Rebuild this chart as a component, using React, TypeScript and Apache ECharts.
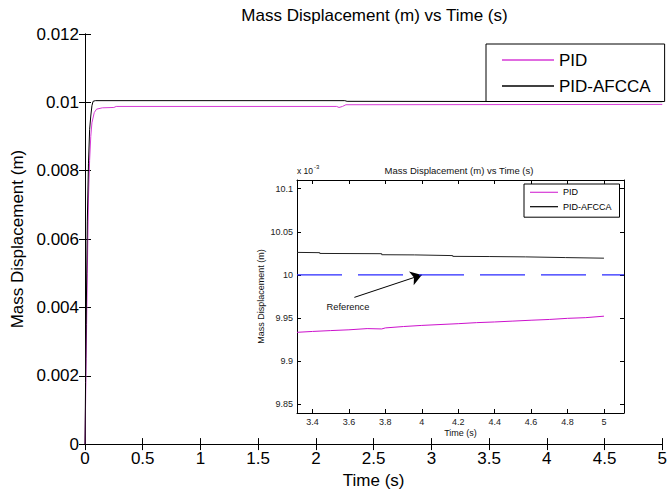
import React, { useEffect, useRef } from "react";
import * as echarts from "echarts";

// ---- main plot data (Time in s, displacement in m) ----
const pidTime = [0, 0.005, 0.01, 0.02, 0.03, 0.04, 0.05, 0.06, 0.08, 0.1, 0.15, 0.25, 0.27, 2.18, 2.2, 2.23, 2.26, 5];
const pidValue = [0, 0.0012, 0.0025, 0.005, 0.0072, 0.0083, 0.009, 0.0094, 0.0097, 0.0098, 0.00984, 0.00985, 0.00988, 0.00988, 0.00985, 0.00988, 0.00993, 0.00994];
const afccaTime = [0, 0.005, 0.01, 0.02, 0.03, 0.04, 0.05, 0.06, 0.07, 0.09, 2.25, 2.27, 5];
const afccaValue = [0, 0.0018, 0.0035, 0.0065, 0.0082, 0.0092, 0.0096, 0.0099, 0.01003, 0.01005, 0.01005, 0.01003, 0.01002];

// ---- inset data (Time in s, displacement in 1e-3 m) ----
const insetPidTime = [3.315, 3.4, 3.5, 3.6, 3.7, 3.78, 3.8, 3.9, 4.0, 4.1, 4.2, 4.3, 4.4, 4.5, 4.6, 4.7, 4.8, 4.9, 5.0];
const insetPidValue = [9.9335, 9.9345, 9.9355, 9.9364, 9.9378, 9.9374, 9.9386, 9.9402, 9.9415, 9.9425, 9.9435, 9.9447, 9.9455, 9.9465, 9.9475, 9.9484, 9.9497, 9.9505, 9.9522];
const insetAfccaTime = [3.315, 3.44, 3.44, 3.78, 3.78, 3.96, 3.96, 4.17, 4.17, 4.37, 4.37, 4.57, 4.57, 4.79, 4.79, 5.0];
const insetAfccaValue = [10.0261, 10.0258, 10.0249, 10.0246, 10.0234, 10.0232, 10.0226, 10.0224, 10.0215, 10.0213, 10.0211, 10.0209, 10.0203, 10.0201, 10.0196, 10.0194];
const referenceTime = [3.315, 5.11];
const referenceValue = [10, 10];
const arrowFrom = [3.63, 9.974];
const arrowTo = [4.0, 10.0];

// ---- tick values ----
const insetXTicks = [3.4, 3.6, 3.8, 4, 4.2, 4.4, 4.6, 4.8, 5];
const insetYTicks = [9.85, 9.9, 9.95, 10, 10.05, 10.1];

const FONT = "Liberation Sans, Arial, Helvetica, sans-serif";
const zip = (a: number[], b: number[]) => a.map((v, i) => [v, b[i]]);

export default function App() {
  const ref = useRef<HTMLDivElement>(null);
  useEffect(() => {
    if (!ref.current) return;
    const chart = echarts.init(ref.current, null, { renderer: "svg" });
    const blk = { color: "#000", width: 1 };
    const mainTick = { show: true, inside: true, length: 6, lineStyle: blk };
    const insetTick = { show: true, inside: true, length: 4, lineStyle: blk, customValues: insetXTicks };
    const insetYTick = { show: true, inside: true, length: 4, lineStyle: blk, customValues: insetYTicks };
    const fmt = (v: number) => String(+v.toFixed(4));
    chart.setOption({
      animation: false,
      backgroundColor: "#fff",
      textStyle: { fontFamily: FONT },
      title: [
        {
          text: "Mass Displacement (m) vs Time (s)",
          left: 374.5,
          top: 6.5,
          textAlign: "center",
          padding: 0,
          textStyle: { fontSize: 17, fontWeight: "normal", color: "#000", fontFamily: FONT },
        },
        {
          text: "Mass Displacement (m) vs Time (s)",
          left: 459,
          top: 165.5,
          textAlign: "center",
          padding: 0,
          textStyle: { fontSize: 9.5, fontWeight: "normal", color: "#111", fontFamily: FONT },
        },
      ],
      legend: [
        {
          orient: "vertical",
          left: 486,
          top: 44,
          data: ["PID", "PID-AFCCA"],
          icon: "rect",
          itemWidth: 52,
          itemHeight: 1.5,
          itemGap: 9,
          padding: [7.5, 14, 7, 16],
          borderColor: "#000",
          borderWidth: 1,
          backgroundColor: "#fff",
          selectedMode: false,
          itemStyle: { borderWidth: 0 },
          textStyle: { fontSize: 17, color: "#000", fontFamily: FONT },
        },
        {
          orient: "vertical",
          left: 524,
          top: 184,
          data: ["PID", "PID-AFCCA"],
          icon: "rect",
          itemWidth: 28,
          itemHeight: 1.2,
          itemGap: 5.4,
          padding: [3.8, 8, 6, 6],
          borderColor: "#000",
          borderWidth: 1,
          backgroundColor: "#fff",
          selectedMode: false,
          itemStyle: { borderWidth: 0 },
          textStyle: { fontSize: 9, color: "#000", fontFamily: FONT },
          z: 10,
        },
      ],
      grid: [
        { left: 85, top: 34, width: 582, height: 413, show: false },
        { left: 297, top: 180, width: 327, height: 233, show: true, backgroundColor: "#fff", borderWidth: 0, z: 3 },
      ],
      xAxis: [
        {
          gridIndex: 0, type: "value", min: 0, max: 5, interval: 0.5, position: "bottom",
          axisLine: { lineStyle: blk }, axisTick: mainTick, splitLine: { show: false },
          axisLabel: { margin: 6, fontSize: 17, color: "#000", fontFamily: FONT, formatter: fmt },
          name: "Time (s)", nameLocation: "middle", nameGap: 26,
          nameTextStyle: { fontSize: 17, color: "#000", fontFamily: FONT },
        },
        {
          gridIndex: 0, type: "value", min: 0, max: 5, interval: 0.5, position: "top",
          axisLine: { lineStyle: blk }, axisTick: mainTick, splitLine: { show: false }, axisLabel: { show: false },
        },
        {
          gridIndex: 1, type: "value", min: 3.315, max: 5.11, position: "bottom",
          axisLine: { lineStyle: blk }, axisTick: insetTick, splitLine: { show: false },
          axisLabel: { margin: 4.5, fontSize: 9, color: "#222", fontFamily: FONT, customValues: insetXTicks, formatter: fmt },
          name: "Time (s)", nameLocation: "middle", nameGap: 15.5,
          nameTextStyle: { fontSize: 9, color: "#111", fontFamily: FONT },
          z: 4,
        },
        {
          gridIndex: 1, type: "value", min: 3.315, max: 5.11, position: "top",
          axisLine: { lineStyle: blk }, axisTick: insetTick, splitLine: { show: false }, axisLabel: { show: false },
          z: 4,
        },
      ],
      yAxis: [
        {
          gridIndex: 0, type: "value", min: 0, max: 0.012, interval: 0.002, position: "left",
          axisLine: { show: true, lineStyle: blk }, axisTick: mainTick, splitLine: { show: false },
          axisLabel: { margin: 6, fontSize: 17, color: "#000", fontFamily: FONT, formatter: fmt },
          name: "Mass Displacement (m)", nameLocation: "middle", nameGap: 58,
          nameTextStyle: { fontSize: 17, color: "#000", fontFamily: FONT },
        },
        {
          gridIndex: 0, type: "value", min: 0, max: 0.012, interval: 0.002, position: "right",
          axisLine: { show: true, lineStyle: blk }, axisTick: mainTick, splitLine: { show: false }, axisLabel: { show: false },
        },
        {
          gridIndex: 1, type: "value", min: 9.84, max: 10.11, position: "left",
          axisLine: { show: true, lineStyle: blk }, axisTick: insetYTick, splitLine: { show: false },
          axisLabel: { margin: 4, fontSize: 9, color: "#222", fontFamily: FONT, customValues: insetYTicks, formatter: fmt },
          name: "Mass Displacement (m)", nameLocation: "middle", nameGap: 32,
          nameTextStyle: { fontSize: 9, color: "#111", fontFamily: FONT },
          z: 4,
        },
        {
          gridIndex: 1, type: "value", min: 9.84, max: 10.11, position: "right",
          axisLine: { show: true, lineStyle: blk }, axisTick: insetYTick, splitLine: { show: false }, axisLabel: { show: false },
          z: 4,
        },
      ],
      series: [
        {
          name: "PID", type: "line", xAxisIndex: 0, yAxisIndex: 0, data: zip(pidTime, pidValue),
          showSymbol: false, color: "#d63ad6", lineStyle: { width: 1, color: "#d63ad6" },
        },
        {
          name: "PID-AFCCA", type: "line", xAxisIndex: 0, yAxisIndex: 0, data: zip(afccaTime, afccaValue),
          showSymbol: false, color: "#000", lineStyle: { width: 1, color: "#000" },
        },
        {
          name: "PID", type: "line", xAxisIndex: 2, yAxisIndex: 2, data: zip(insetPidTime, insetPidValue),
          showSymbol: false, color: "#cc11cc", lineStyle: { width: 1, color: "#cc11cc" }, z: 5,
        },
        {
          name: "PID-AFCCA", type: "line", xAxisIndex: 2, yAxisIndex: 2, data: zip(insetAfccaTime, insetAfccaValue),
          showSymbol: false, color: "#222", lineStyle: { width: 1, color: "#222" }, z: 5,
        },
        {
          name: "Reference", type: "line", xAxisIndex: 2, yAxisIndex: 2, data: zip(referenceTime, referenceValue),
          showSymbol: false, color: "#2a2aff", lineStyle: { width: 1.2, color: "#2a2aff", type: [45, 16] }, z: 5,
          markLine: {
            silent: true,
            symbol: ["none", "arrow"],
            symbolSize: 11,
            label: { show: false },
            lineStyle: { color: "#000", width: 1, type: "solid" },
            data: [[{ coord: arrowFrom }, { coord: arrowTo }]],
          },
        },
      ],
      graphic: [
        { type: "text", left: 297, top: 166, z: 20, style: { text: "x 10", fontSize: 8.5, fill: "#111", fontFamily: FONT } },
        { type: "text", left: 314, top: 163.5, z: 20, style: { text: "-3", fontSize: 6, fill: "#111", fontFamily: FONT } },
        { type: "text", x: 348, y: 307, z: 20, style: { text: "Reference", fontSize: 9.3, fill: "#111", fontFamily: FONT, align: "center", verticalAlign: "middle" } },
      ],
    });
    return () => chart.dispose();
  }, []);
  return <div ref={ref} style={{ position: "fixed", left: 0, top: 0, width: 670, height: 494 }} />;
}
